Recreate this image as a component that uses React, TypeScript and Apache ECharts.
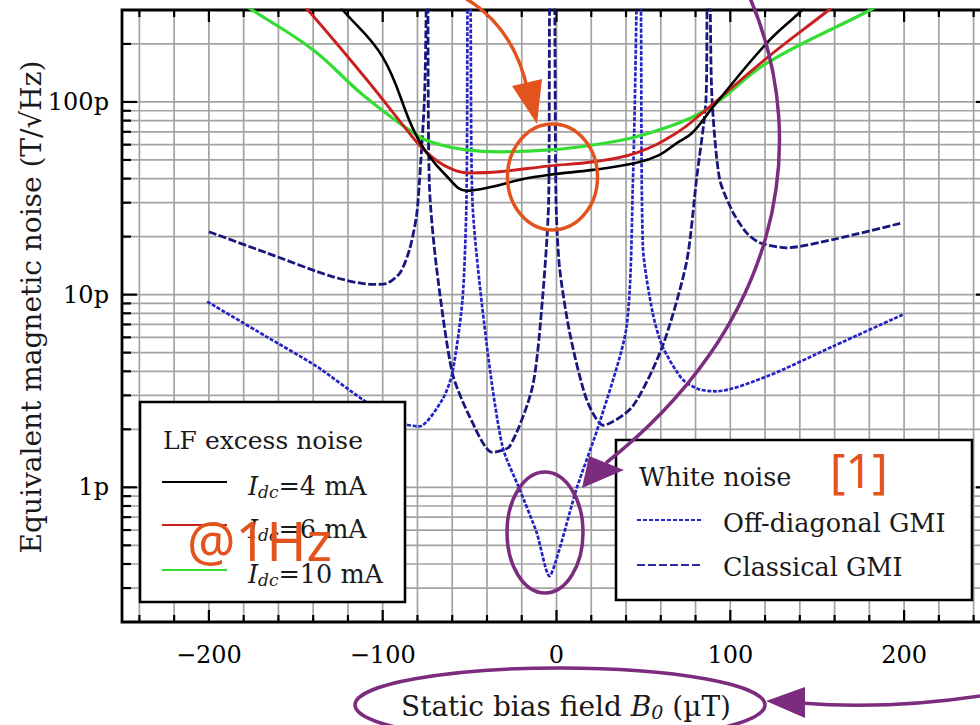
import React, { useEffect, useRef } from "react";
import * as echarts from "echarts";

// ---- data (x: static bias field in µT, y: equivalent noise in pT/√Hz) ----
const LF_4MA: [number, number][] = [
  [-140, 450], [-123, 300], [-100, 171], [-83, 74], [-75, 55], [-63, 41],
  [-52, 34.6], [-37, 36.3], [-21, 39.5], [-4, 41.9], [21, 44.4], [46, 48.3], [59, 53],
  [69, 61], [78, 69], [90, 94], [121, 202], [140, 292], [150, 360],
];
const LF_6MA: [number, number][] = [
  [-155, 390], [-143, 300], [-109, 130], [-83, 66], [-75, 55], [-63, 46],
  [-50, 42.8], [-33, 43.4], [-4, 46.6], [21, 48.9], [46, 54.4], [69, 69], [86, 91],
  [121, 169], [155, 292], [165, 345],
];
const LF_10MA: [number, number][] = [
  [-190, 370], [-175, 300], [-140, 186], [-111, 108], [-79, 66], [-67, 60], [-52, 56.4],
  [-33, 55.1], [-4, 56.4], [21, 59.8], [50, 67.5], [86, 91], [121, 159], [178, 292], [190, 335],
];
const CLASSICAL_GMI: [number, number][] = [
  [-200, 21.2], [-167, 16.5], [-129, 12.4], [-106, 11.3], [-98, 11.4], [-90, 13], [-84.6, 17.1],
  [-80.6, 25.4], [-78.9, 38], [-76, 103], [-75, 300], [-74.5, 3000], [-74, 300], [-73.1, 36.3],
  [-69.1, 14], [-60, 3.94], [-50, 2.33], [-37, 1.52], [-27, 1.63], [-13.8, 3.33],
  [-8.1, 9.4], [-4.5, 31], [-4, 300], [-2.5, 3000], [-1, 300], [-0.3, 31], [1.7, 14], [7.5, 6.4],
  [17.3, 2.86], [27, 2.1], [43.8, 2.63], [61, 5.4], [74.8, 14.7], [80.6, 40], [86, 103],
  [86.6, 300], [87.5, 3000], [88.5, 300], [89.5, 103], [93.8, 40], [101.3, 27], [109.4, 20.9],
  [116.9, 18.6], [132.4, 17.5], [158.9, 19.3], [199.2, 23.6],
];
const OFFDIAG_GMI: [number, number][] = [
  [-201, 9.2], [-167, 6.06], [-138, 4.24], [-111.7, 2.86], [-90.4, 2.17], [-79, 2.07],
  [-65.6, 2.86], [-59.9, 3.94], [-54.1, 9.4], [-51.8, 31], [-51.2, 300], [-50.3, 3000],
  [-49.4, 300], [-48.4, 31], [-40.3, 5.64], [-31.1, 1.63], [-21.3, 0.98], [-11.5, 0.585],
  [-4, 0.346], [1.7, 0.478], [11.5, 0.98], [24.8, 2.17], [40.3, 6.8], [44, 39.5], [46, 300],
  [47.3, 3000], [48.6, 300], [49.7, 17.8], [55.3, 8.07], [61, 5.38], [72.5, 3.63], [82.3, 3.22],
  [92.1, 3.15], [120.9, 3.76], [158.9, 5.38], [199.2, 7.87],
];

const X_TICK_LABELS = [-200, -100, 0, 100, 200];
const Y_TICK_LABELS = [1, 10, 100];
const X_RANGE = [-250, 250];
const Y_RANGE = [0.2, 300];

const LEGEND_LF = ["4", "6", "10"];

// ---- styles ----
const SERIF = '"DejaVu Serif", "Liberation Serif", serif';
const SANS = '"Noto Sans", "Open Sans", sans-serif';
const GRID_COLOR = "#a3a3a3";
const C_BLACK = "#000000";
const C_RED = "#cc1f1f";
const C_GREEN = "#33dd33";
const C_CLASSICAL = "#17177c";
const C_OFFDIAG = "#2424c4";
const ORANGE = "#e2531e";
const PURPLE = "#7b2c7e";
const TXT = "#1a1a1a";
const LEG_FS = 25.5;
const TITLE_FS = 28;
const TICK_FS = 24;

const xGrid: number[] = [];
for (let v = -240; v <= 240; v += 20) xGrid.push(v);
const yGrid: number[] = [];
for (let e = -1; e <= 2; e++) {
  for (let k = 1; k <= 9; k++) {
    const v = Number((k * Math.pow(10, e)).toPrecision(6));
    if (v > Y_RANGE[0] + 1e-9 && v < Y_RANGE[1] - 1e-9) yGrid.push(v);
  }
}
const isDecade = (v: number) => Math.abs(Math.log10(v) - Math.round(Math.log10(v))) < 1e-6;

const fmtMinus = (v: number) => (v < 0 ? "\u2212" + Math.abs(v) : String(v));

function buildOption(): any {
  const lineBase = { type: "line", showSymbol: false, symbol: "none", z: 3, silent: true };
  const richLegend = (n: string) => ({
    text: `{i|I}{s|dc}{r|=${n} mA}`,
    rich: {
      i: { fontFamily: SERIF, fontStyle: "italic", fontSize: LEG_FS, fill: TXT, lineHeight: 30 },
      s: { fontFamily: SERIF, fontStyle: "italic", fontSize: 17, fill: TXT, padding: [12, 0, 0, 0] },
      r: { fontFamily: SERIF, fontSize: LEG_FS, fill: TXT, lineHeight: 30 },
    },
    verticalAlign: "middle",
    align: "left",
  });
  const lfLegendY = [482, 525, 570];
  const lfColors = [C_BLACK, C_RED, C_GREEN];

  return {
    animation: false,
    backgroundColor: "#ffffff",
    grid: { left: 122, right: -11, top: 10, bottom: 103, outerBoundsMode: "none", containLabel: false },
    xAxis: {
      type: "value",
      min: X_RANGE[0],
      max: X_RANGE[1],
      interval: 50,
      axisLine: { show: false },
      axisTick: { show: false },
      splitLine: { show: false },
      axisLabel: {
        margin: 21,
        fontFamily: SERIF,
        fontSize: TICK_FS,
        color: "#000",
        formatter: (v: number) => (X_TICK_LABELS.includes(v) ? fmtMinus(v) : ""),
      },
    },
    yAxis: {
      type: "log",
      logBase: 10,
      min: Y_RANGE[0],
      max: Y_RANGE[1],
      axisLine: { show: false },
      axisTick: { show: false },
      splitLine: { show: false },
      minorTick: { show: false },
      minorSplitLine: { show: false },
      axisLabel: {
        margin: 13,
        fontFamily: SERIF,
        fontSize: TICK_FS,
        color: "#000",
        formatter: (v: number) => {
          if (!isDecade(v)) return "";
          const p = Math.pow(10, Math.round(Math.log10(v)));
          return Y_TICK_LABELS.includes(p) ? `${p}p` : "";
        },
      },
    },
    series: [
      {
        type: "custom",
        name: "frame",
        silent: true,
        z: 1,
        clip: false,
        data: [[0, 1]],
        renderItem: (params: any, api: any) => {
          const cs = params.coordSys;
          const left = cs.x, top = cs.y, right = cs.x + cs.width, bottom = cs.y + cs.height;
          const children: any[] = [];
          const gs = { stroke: GRID_COLOR, lineWidth: 1.7 };
          const ts = { stroke: "#000", lineWidth: 2.2 };
          xGrid.forEach((v) => {
            const px = api.coord([v, 1])[0];
            children.push({ type: "line", shape: { x1: px, y1: top, x2: px, y2: bottom }, style: gs });
          });
          yGrid.forEach((v) => {
            const py = api.coord([0, v])[1];
            children.push({ type: "line", shape: { x1: left, y1: py, x2: right, y2: py }, style: gs });
          });
          xGrid.forEach((v) => {
            const px = api.coord([v, 1])[0];
            const L = v % 100 === 0 ? 12 : 7;
            children.push({ type: "line", shape: { x1: px, y1: bottom, x2: px, y2: bottom - L }, style: ts });
            children.push({ type: "line", shape: { x1: px, y1: top, x2: px, y2: top + L }, style: ts });
          });
          yGrid.forEach((v) => {
            const py = api.coord([0, v])[1];
            const L = isDecade(v) ? 15 : 9;
            children.push({ type: "line", shape: { x1: left, y1: py, x2: left + L, y2: py }, style: ts });
            children.push({ type: "line", shape: { x1: right, y1: py, x2: right - L, y2: py }, style: ts });
          });
          children.push({
            type: "rect",
            shape: { x: left, y: top, width: cs.width, height: cs.height },
            style: { fill: "none", stroke: "#000", lineWidth: 2.8 },
          });
          return { type: "group", children };
        },
      },
      { ...lineBase, name: "Classical GMI", data: CLASSICAL_GMI, smooth: 0.25,
        lineStyle: { color: C_CLASSICAL, width: 2.8, type: [8, 2.5] } },
      { ...lineBase, name: "Off-diagonal GMI", data: OFFDIAG_GMI, smooth: 0.25,
        lineStyle: { color: C_OFFDIAG, width: 2.7, type: [4, 1.6] } },
      { ...lineBase, name: "Idc=10 mA", data: LF_10MA, smooth: 0.4,
        lineStyle: { color: C_GREEN, width: 3.2 } },
      { ...lineBase, name: "Idc=6 mA", data: LF_6MA, smooth: 0.4,
        lineStyle: { color: C_RED, width: 2.9 } },
      { ...lineBase, name: "Idc=4 mA", data: LF_4MA, smooth: 0.4,
        lineStyle: { color: C_BLACK, width: 2.6 } },
    ],
    graphic: [
      // axis titles
      {
        type: "text", x: 31, y: 307, rotation: Math.PI / 2, z: 100,
        style: { text: "Equivalent magnetic noise (T/\u221AHz)", fontFamily: SERIF, fontSize: TITLE_FS,
          fill: TXT, align: "center", verticalAlign: "middle" },
      },
      {
        type: "text", x: 566, y: 706, z: 100,
        style: {
          text: "{r|Static bias field }{i|B}{s|0}{r| (\u00B5T)}",
          rich: {
            r: { fontFamily: SERIF, fontSize: TITLE_FS, fill: TXT, lineHeight: 32 },
            i: { fontFamily: SERIF, fontSize: TITLE_FS, fontStyle: "italic", fill: TXT, lineHeight: 32 },
            s: { fontFamily: SERIF, fontSize: 19, fontStyle: "italic", fill: TXT, padding: [12, 0, 0, 0] },
          },
          align: "center", verticalAlign: "middle",
        },
      },
      // LF legend box
      {
        type: "rect", z: 100, shape: { x: 140, y: 402, width: 265, height: 200 },
        style: { fill: "#fff", stroke: "#000", lineWidth: 2.6 },
      },
      {
        type: "text", x: 163, y: 440, z: 101,
        style: { text: "LF excess noise", fontFamily: SERIF, fontSize: LEG_FS - 0.5, fill: TXT, verticalAlign: "middle" },
      },
      ...LEGEND_LF.flatMap((n, i) => [
        {
          type: "line", z: 101, shape: { x1: 162, y1: lfLegendY[i], x2: 227, y2: lfLegendY[i] },
          style: { stroke: lfColors[i], lineWidth: 2 },
        },
        { type: "text", x: 248, y: lfLegendY[i] + 4, z: 101, style: richLegend(n) },
      ]),
      // White noise legend box
      {
        type: "rect", z: 100, shape: { x: 616, y: 440, width: 356, height: 160 },
        style: { fill: "#fff", stroke: "#000", lineWidth: 2.6 },
      },
      {
        type: "text", x: 639, y: 477, z: 101,
        style: { text: "White noise", fontFamily: SERIF, fontSize: LEG_FS, fill: TXT, verticalAlign: "middle" },
      },
      {
        type: "line", z: 101, shape: { x1: 637, y1: 520, x2: 702, y2: 520 },
        style: { stroke: C_OFFDIAG, lineWidth: 2.2, lineDash: [4, 2] },
      },
      {
        type: "text", x: 723, y: 523, z: 101,
        style: { text: "Off-diagonal GMI", fontFamily: SERIF, fontSize: LEG_FS, fill: TXT, verticalAlign: "middle" },
      },
      {
        type: "line", z: 101, shape: { x1: 637, y1: 565, x2: 702, y2: 565 },
        style: { stroke: "#2b2ba8", lineWidth: 2.2, lineDash: [8, 3] },
      },
      {
        type: "text", x: 723, y: 567, z: 101,
        style: { text: "Classical GMI", fontFamily: SERIF, fontSize: LEG_FS, fill: TXT, verticalAlign: "middle" },
      },
      // orange annotations
      {
        type: "bezierCurve", z: 110,
        shape: { x1: 465, y1: -2, x2: 528, y2: 92, cpx1: 515, cpy1: 28 },
        style: { stroke: ORANGE, lineWidth: 3.5, fill: "none" },
      },
      {
        type: "polygon", z: 110, shape: { points: [[512, 86], [542, 79], [537, 124]] },
        style: { fill: ORANGE },
      },
      {
        type: "ellipse", z: 110, shape: { cx: 552.5, cy: 177, rx: 45, ry: 53 },
        style: { fill: "none", stroke: ORANGE, lineWidth: 3.5 },
      },
      {
        type: "text", x: 187, y: 540, z: 110,
        style: { text: "@1Hz", fontFamily: SANS, fontSize: 54, fill: ORANGE, verticalAlign: "middle" },
      },
      {
        type: "text", x: 830, y: 470, z: 110,
        style: { text: "[1]", fontFamily: SANS, fontSize: 47, fill: ORANGE, verticalAlign: "middle" },
      },
      // purple annotations
      {
        type: "ellipse", z: 110, shape: { cx: 545, cy: 532.5, rx: 38, ry: 60.5 },
        style: { fill: "none", stroke: PURPLE, lineWidth: 3.5 },
      },
      {
        type: "bezierCurve", z: 110,
        shape: { x1: 750, y1: -2, x2: 606, y2: 463, cpx1: 815, cpy1: 150, cpx2: 775, cpy2: 330 },
        style: { stroke: PURPLE, lineWidth: 3.5, fill: "none" },
      },
      {
        type: "polygon", z: 110, shape: { points: [[589, 456], [624, 470], [582, 488]] },
        style: { fill: PURPLE },
      },
      {
        type: "ellipse", z: 110, shape: { cx: 560, cy: 705, rx: 205, ry: 37 },
        style: { fill: "none", stroke: PURPLE, lineWidth: 3.5 },
      },
      {
        type: "bezierCurve", z: 110,
        shape: { x1: 800, y1: 703, x2: 986, y2: 695, cpx1: 890, cpy1: 710 },
        style: { stroke: PURPLE, lineWidth: 3.5, fill: "none" },
      },
      {
        type: "polygon", z: 110, shape: { points: [[805, 687], [805, 718], [766, 701]] },
        style: { fill: PURPLE },
      },
    ],
  };
}

export default function App() {
  const ref = useRef<HTMLDivElement>(null);
  useEffect(() => {
    if (!ref.current) return;
    const chart = echarts.init(ref.current, null, { renderer: "svg" });
    chart.setOption(buildOption());
    return () => chart.dispose();
  }, []);
  return (
    <div
      ref={ref}
      style={{ position: "fixed", left: 0, top: 0, width: 980, height: 725, background: "#fff" }}
    />
  );
}
